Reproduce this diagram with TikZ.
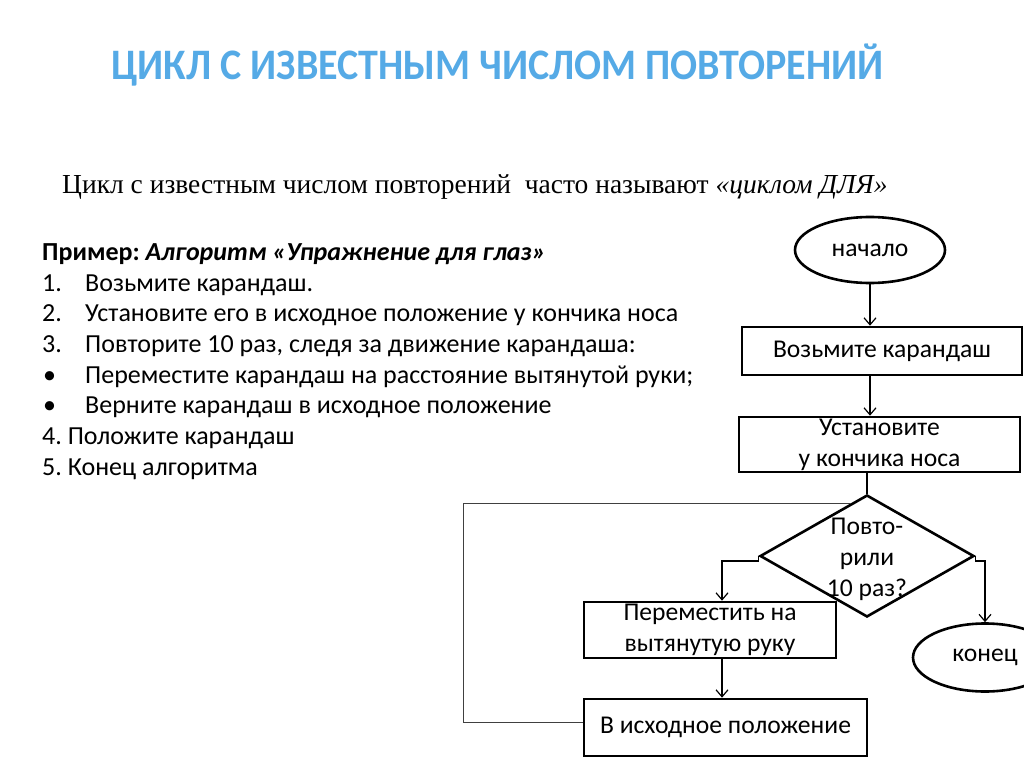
\documentclass[tikz,border=0pt]{standalone}
\usepackage{fontspec}
\setmainfont{Carlito}
\newfontfamily\seriffont{Liberation Serif}
\usetikzlibrary{shapes.geometric,arrows.meta,calc}
\definecolor{titleblue}{RGB}{85,170,230}
\frenchspacing
\begin{document}
\begin{tikzpicture}[x=1pt,y=-1pt,
  box/.style={draw, line width=2.6pt, inner sep=0pt, align=center, font=\fontsize{25.6}{31}\selectfont},
  oval/.style={draw, ellipse, line width=2.6pt, inner sep=0pt, minimum width=150pt, minimum height=66pt, font=\fontsize{25.6}{30}\selectfont},
  dia/.style={draw, diamond, line width=2.6pt, inner sep=0pt, minimum width=214pt, minimum height=122pt},
  arr/.style={line width=1.2pt, -{Straight Barb[length=7pt,width=12pt]}},
  con/.style={line width=1.2pt},
  loopline/.style={line width=0.8pt, draw=black!75},
  txt/.style={anchor=base west, inner sep=0pt, font=\fontsize{26}{30}\selectfont}
]
\useasboundingbox[fill=white] (0,0) rectangle (1024,767);

% title
\node[inner sep=0pt, text=titleblue, font=\fontsize{43.5}{46}\selectfont\bfseries, xscale=0.92] (title) at (497.5,65) {ЦИКЛ С ИЗВЕСТНЫМ ЧИСЛОМ ПОВТОРЕНИЙ};

% subtitle
\node[anchor=base west, inner sep=0pt, font=\seriffont\fontsize{27.5}{32}\selectfont] (sub) at (62,194) {Цикл с известным числом повторений\ \ часто называют \textit{«циклом ДЛЯ»}};

% list
\node[txt] (l0) at (42,260) {\textbf{Пример:} \textbf{\textit{Алгоритм «Упражнение для глаз»}}};
\node[txt] (n1) at (42,291) {1.};
\node[txt] (l1) at (85,291) {Возьмите карандаш.};
\node[txt] (n2) at (42,321) {2.};
\node[txt] (l2) at (85,321) {Установите его в исходное положение у кончика носа};
\node[txt] (n3) at (42,352) {3.};
\node[txt] (l3) at (85,352) {Повторите 10 раз, следя за движение карандаша:};
\node[txt] (n4) at (43,383) {•};
\node[txt] (l4) at (85,383) {Переместите карандаш на расстояние вытянутой руки;};
\node[txt] (n5) at (43,413) {•};
\node[txt] (l5) at (85,413) {Верните карандаш в исходное положение};
\node[txt] (l6) at (42,444) {4. Положите карандаш};
\node[txt] (l7) at (42,475) {5. Конец алгоритма};

% flowchart
\node[oval] (start) at (870,250) {начало};
\node[box, minimum width=280pt, minimum height=48pt] (b1) at (882,351) {Возьмите карандаш};
\node[box, minimum width=281pt, minimum height=55pt] (b2) at (879.5,444.5) {Установите\\у кончика носа};
\node[dia] (d) at (867,556) {};
\node[align=center, inner sep=0pt, font=\fontsize{25.6}{31}\selectfont] (dt) at (867,559) {Повто-\\рили\\10 раз?};
\node[box, minimum width=252pt, minimum height=56pt] (b3) at (710,630) {Переместить на\\вытянутую руку};
\node[box, minimum width=283pt, minimum height=57pt] (b4) at (725.5,727.5) {В исходное положение};
\node[oval, minimum width=144pt, minimum height=68pt] (end) at (985,657.5) {конец};

\coordinate (ax) at (722,0);
\coordinate (lx) at (463,0);
\coordinate (le) at ($(d.north)!0.15!(d.west)$);

\draw[arr] (start) -- (start.south |- b1.north);
\draw[arr] (b1.south -| start) -- (b2.north -| start);
\draw[con] (b2.south -| d.north) -- (d.north);
\draw[arr] (d.west) -- ++(0,5) -| (b3.north -| ax);
\draw[arr] (d.east) -- ++(0,5) -| (end.north);
\draw[arr] (b3.south -| ax) -- (b4.north -| ax);
\draw[loopline] ($(b4.west)+(0,-5)$) -| (lx |- le) -- (le);
\end{tikzpicture}
\end{document}
